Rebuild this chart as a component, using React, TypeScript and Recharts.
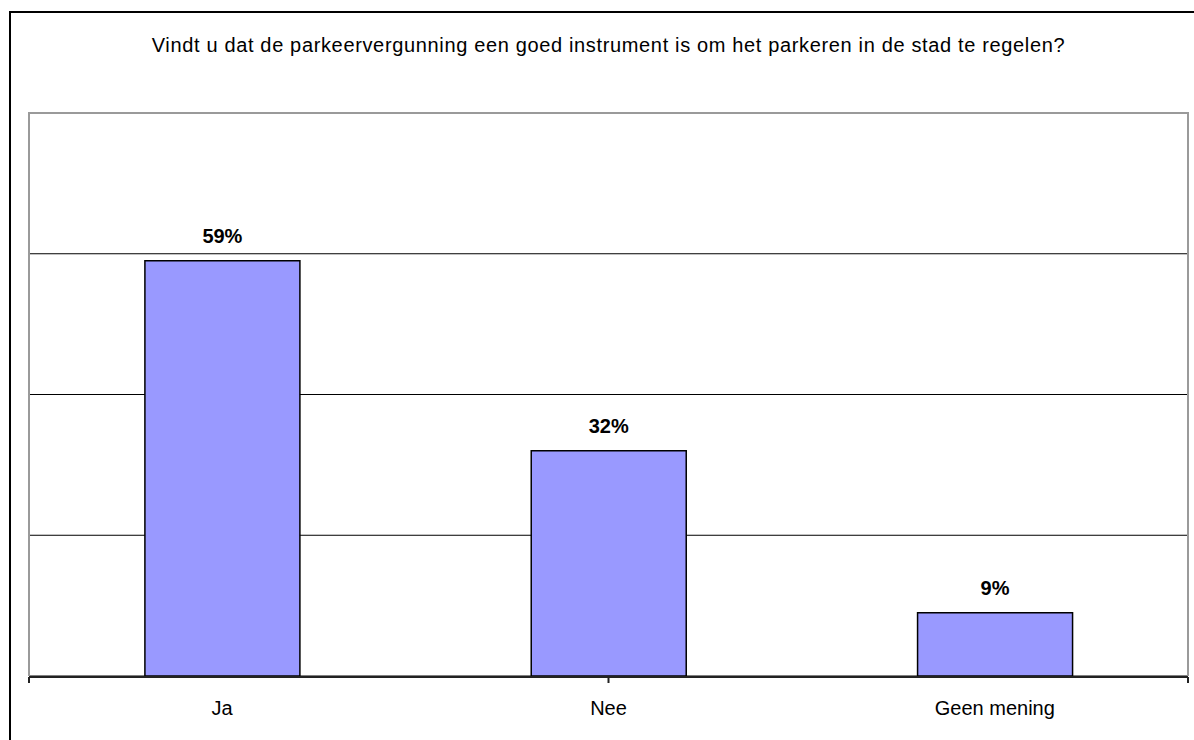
import React from "react";
import {
  BarChart,
  Bar,
  XAxis,
  YAxis,
  CartesianGrid,
  LabelList,
} from "recharts";

const categories = ["Ja", "Nee", "Geen mening"];
const shares = [0.59, 0.32, 0.09];
const gridTicks = [0.2, 0.4, 0.6];
const edgeTicks = [0, 1, 2, 3];

const title =
  "Vindt u dat de parkeervergunning een goed instrument is om het parkeren in de stad te regelen?";

const FONT = '"Liberation Sans", Arial, sans-serif';

const data = categories.map((name, i) => ({ name, value: shares[i] }));

const App = () => {
  return (
    <div
      style={{
        position: "absolute",
        left: 0,
        top: 0,
        width: 1194,
        height: 740,
        overflow: "hidden",
        background: "#fff",
        fontFamily: FONT,
      }}
    >
      {/* outer frame, only top and left edges are in view */}
      <div
        style={{
          position: "absolute",
          left: 9,
          top: 11,
          width: 1220,
          height: 760,
          border: "2px solid #000",
          boxSizing: "border-box",
        }}
      />
      <div
        style={{
          position: "absolute",
          left: 29,
          top: 34,
          width: 1159,
          textAlign: "center",
          fontSize: 20,
          letterSpacing: "0.65px",
          lineHeight: "22px",
          color: "#000",
        }}
      >
        {title}
      </div>
      <div style={{ position: "absolute", left: 0, top: 0 }}>
        <BarChart
          width={1194}
          height={740}
          data={data}
          margin={{ top: 113, right: 6, left: 28, bottom: 62 }}
          barCategoryGap="30%"
        >
          <CartesianGrid
            vertical={false}
            horizontal={true}
            stroke="#000"
            strokeWidth={1}
          />
          <YAxis
            domain={[0, 0.8]}
            ticks={gridTicks}
            width={1}
            axisLine={false}
            tickLine={false}
            tickFormatter={() => ""}
          />
          <XAxis
            xAxisId="edges"
            type="number"
            domain={[0, 3]}
            ticks={edgeTicks}
            allowDataOverflow
            height={1}
            axisLine={{ stroke: "#222", strokeWidth: 2 }}
            tickLine={{ stroke: "#222", strokeWidth: 2 }}
            tickSize={6}
            tickFormatter={() => ""}
          />
          <XAxis
            dataKey="name"
            height={1}
            axisLine={false}
            tickLine={false}
            tickSize={0}
            tickMargin={25}
            tick={{ fill: "#000", fontSize: 20, fontFamily: FONT }}
            interval={0}
          />
          <Bar
            dataKey="value"
            fill="#9999FF"
            stroke="#000"
            strokeWidth={1.5}
            isAnimationActive={false}
          >
            <LabelList
              dataKey="value"
              position="top"
              offset={18}
              formatter={(v: any) => `${Math.round(v * 100)}%`}
              style={{
                fill: "#000",
                fontSize: 20,
                fontWeight: "bold",
                fontFamily: FONT,
              }}
            />
          </Bar>
        </BarChart>
      </div>
      {/* plot area frame, drawn over the chart; the bottom edge is the axis */}
      <div
        style={{
          position: "absolute",
          left: 28,
          top: 112,
          width: 1161,
          height: 564,
          borderTop: "2px solid #9a9a9a",
          borderLeft: "2px solid #9a9a9a",
          borderRight: "2px solid #9a9a9a",
          boxSizing: "border-box",
          pointerEvents: "none",
        }}
      />
    </div>
  );
};

export default App;
